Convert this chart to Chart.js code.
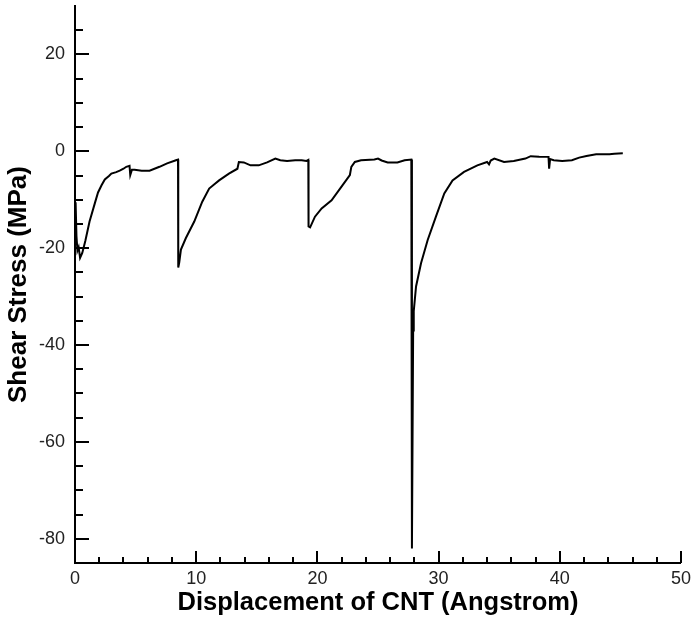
<!DOCTYPE html>
<html>
<head>
<meta charset="utf-8">
<script src="https://cdn.jsdelivr.net/npm/chart.js@4/dist/chart.umd.min.js"></script>
<style>
  html, body { margin: 0; padding: 0; background: #fff; }
  #wrap { width: 696px; height: 619px; }
</style>
</head>
<body>
<div id="wrap"><canvas id="stress"></canvas></div>
<script>
// Shear stress vs displacement of CNT
const displacement = [
  0.05, 0.12, 0.2, 0.3, 0.42, 0.6, 0.85, 1.2, 1.64, 1.9, 2.19, 2.46, 2.8, 3.0, 3.4, 3.69, 4.0, 4.23, 4.5, 4.56, 4.7, 4.92, 5.5, 6.15, 6.97, 7.6, 8.33, 8.5,
  8.52, 8.6, 8.74, 9.15, 9.84, 10.5, 11.07, 11.5, 11.89, 12.7, 13.4, 13.52, 13.93, 14.48, 15.16, 15.85, 16.53, 16.94, 17.5, 18.17, 18.7, 19.1, 19.25,
  19.27, 19.4, 19.8, 20.35, 21.17, 21.99, 22.68, 22.8, 23.09, 23.6, 24.7, 25.0, 25.3, 25.8, 26.6, 27.2, 27.75,
  27.8, 27.9, 27.95, 28.14, 28.55, 29.1, 29.78, 30.47, 31.15, 32.1, 33.2, 34.0, 34.16, 34.3, 34.6, 35.4, 36.2, 37.16, 37.6, 38.3, 39.07, 39.12, 39.2,
  39.5, 40.2, 41.0, 41.6, 42.2, 43.0, 44.1, 44.5, 45.2
];
const shearStress = [
  -10.5, -17.5, -20.5, -19.8, -22.0, -21.0, -18.5, -14.5, -10.7, -8.5, -7.0, -5.8, -5.1, -4.6, -4.3, -4.0, -3.6, -3.2, -3.0, -4.9, -3.8, -3.8, -4.0, -4.0, -3.2, -2.5, -1.85, -1.7,
  -24.0, -23.0, -20.3, -17.9, -14.5, -10.4, -7.7, -6.8, -6.0, -4.6, -3.6, -2.2, -2.3, -2.9, -2.9, -2.3, -1.5, -1.85, -2.0, -1.85, -1.85, -2.0, -1.8,
  -15.5, -15.7, -13.5, -11.8, -10.1, -7.3, -4.9, -3.2, -2.2, -1.85, -1.7, -1.5, -1.9, -2.3, -2.3, -1.85, -1.7,
  -82.0, -37.0, -33.0, -27.9, -23.1, -18.3, -13.5, -8.7, -6.0, -4.25, -2.9, -2.2, -2.7, -1.9, -1.5, -2.2, -2.0, -1.5, -1.0, -1.1, -1.15, -3.6, -1.6,
  -1.85, -2.0, -1.85, -1.3, -0.96, -0.6, -0.6, -0.5, -0.4
];

const xMajorTicks = [0, 10, 20, 30, 40, 50];
const xMinorTicks = [2, 4, 6, 8, 12, 14, 16, 18, 22, 24, 26, 28, 32, 34, 36, 38, 42, 44, 46, 48];
const yMajorTicks = [-80, -60, -40, -20, 0, 20];
const yMinorTicks = [-75, -70, -65, -55, -50, -45, -35, -30, -25, -15, -10, -5, 5, 10, 15, 25];

const FONT = "'Liberation Sans', Arial, Helvetica, sans-serif";

// tick marks point into the plot, so draw them ourselves
const innerTicks = {
  id: 'innerTicks',
  afterDraw(chart) {
    const { ctx, chartArea, scales } = chart;
    const xs = scales.x, ys = scales.y;
    ctx.save();
    ctx.strokeStyle = '#000';
    ctx.lineWidth = 2;
    ctx.beginPath();
    const xTick = (v, len) => {
      const px = Math.round(xs.getPixelForValue(v));
      ctx.moveTo(px, chartArea.bottom);
      ctx.lineTo(px, chartArea.bottom - len);
    };
    const yTick = (v, len) => {
      const py = Math.round(ys.getPixelForValue(v));
      ctx.moveTo(chartArea.left, py);
      ctx.lineTo(chartArea.left + len, py);
    };
    xMajorTicks.forEach(v => xTick(v, 12));
    xMinorTicks.forEach(v => xTick(v, 6));
    yMajorTicks.forEach(v => yTick(v, 14));
    yMinorTicks.forEach(v => yTick(v, 8));
    ctx.stroke();
    ctx.restore();
  }
};

new Chart(document.getElementById('stress').getContext('2d'), {
  type: 'line',
  data: {
    labels: displacement,
    datasets: [{
      label: 'Shear Stress',
      data: displacement.map((d, i) => ({ x: d, y: shearStress[i] })),
      borderColor: '#000',
      borderWidth: 2,
      pointRadius: 0,
      tension: 0,
      fill: false
    }]
  },
  options: {
    responsive: true,
    maintainAspectRatio: false,
    animation: false,
    layout: { padding: { top: 6, right: 11, bottom: 1, left: 0 } },
    plugins: {
      legend: { display: false },
      tooltip: { enabled: false }
    },
    scales: {
      x: {
        type: 'linear',
        min: 0,
        max: 50,
        grid: { display: false, drawTicks: false },
        border: { display: true, color: '#000', width: 2 },
        ticks: {
          stepSize: 10,
          padding: 5,
          color: '#222',
          maxRotation: 0,
          font: { family: FONT, size: 18 }
        },
        title: {
          display: true,
          text: 'Displacement of CNT (Angstrom)',
          color: '#000',
          padding: { top: 0, bottom: 0 },
          font: { family: FONT, size: 25.5, weight: 'bold' }
        },
        afterFit: (scale) => { scale.height = 55; }
      },
      y: {
        type: 'linear',
        min: -85,
        max: 30,
        afterBuildTicks: (scale) => { scale.ticks = yMajorTicks.map(v => ({ value: v })); },
        grid: { display: false, drawTicks: false },
        border: { display: true, color: '#000', width: 2 },
        ticks: {
          padding: 10,
          color: '#222',
          font: { family: FONT, size: 18 }
        },
        title: {
          display: true,
          text: 'Shear Stress (MPa)',
          color: '#000',
          padding: { top: 3, bottom: 0 },
          font: { family: FONT, size: 26, weight: 'bold' }
        },
        afterFit: (scale) => {
          scale.width = 75;
          scale.paddingTop = 0;
          scale.paddingBottom = 0;
        }
      }
    }
  },
  plugins: [innerTicks]
});
</script>
</body>
</html>
